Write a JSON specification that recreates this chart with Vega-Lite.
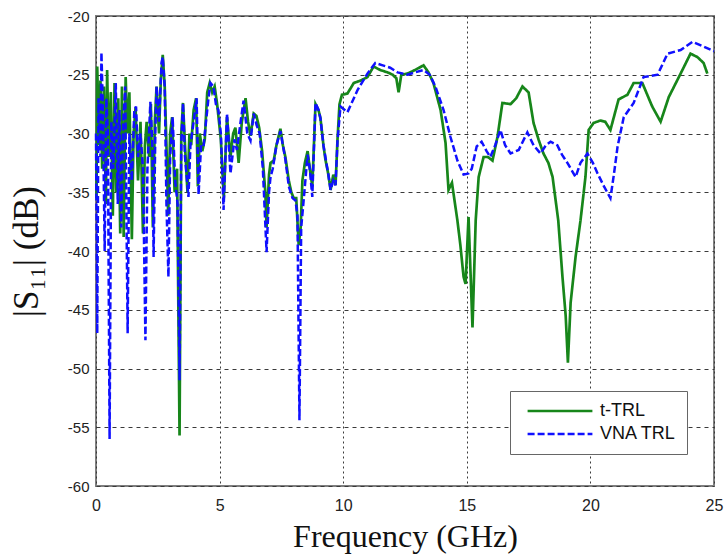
{
  "$schema": "https://vega.github.io/schema/vega-lite/v6.json",
  "autosize": {"type": "none"},
  "padding": {"left": 96, "top": 16, "right": 14, "bottom": 73},
  "width": 618,
  "height": 470,
  "background": "white",
  "config": {
    "view": {"stroke": "#7f7f7f", "strokeWidth": 2},
    "axis": {
      "labelFont": "Liberation Sans", "labelFontSize": 15, "labelColor": "#222",
      "titleFont": "Liberation Serif", "titleFontSize": 32, "titleFontWeight": "normal", "titleColor": "#111",
      "gridColor": "#3a3a3a", "gridWidth": 1, "gridOpacity": 1,
      "domain": false, "ticks": false
    }
  },
  "data": {"values": [
    {"f":0.02,"s":-35.5,"k":"t-TRL"},{"f":0.05,"s":-24.3,"k":"t-TRL"},{"f":0.12,"s":-31,"k":"t-TRL"},{"f":0.18,"s":-25.5,"k":"t-TRL"},{"f":0.25,"s":-33,"k":"t-TRL"},{"f":0.32,"s":-26,"k":"t-TRL"},{"f":0.4,"s":-36,"k":"t-TRL"},{"f":0.45,"s":-24.6,"k":"t-TRL"},{"f":0.52,"s":-32,"k":"t-TRL"},{"f":0.6,"s":-26.5,"k":"t-TRL"},{"f":0.68,"s":-37,"k":"t-TRL"},{"f":0.75,"s":-25.7,"k":"t-TRL"},{"f":0.82,"s":-35,"k":"t-TRL"},{"f":0.9,"s":-27,"k":"t-TRL"},{"f":0.98,"s":-38.5,"k":"t-TRL"},{"f":1.05,"s":-26,"k":"t-TRL"},{"f":1.12,"s":-38.8,"k":"t-TRL"},{"f":1.2,"s":-25.2,"k":"t-TRL"},{"f":1.27,"s":-30,"k":"t-TRL"},{"f":1.35,"s":-26.5,"k":"t-TRL"},{"f":1.45,"s":-39,"k":"t-TRL"},{"f":1.52,"s":-30,"k":"t-TRL"},{"f":1.6,"s":-27.8,"k":"t-TRL"},{"f":1.7,"s":-34,"k":"t-TRL"},{"f":1.8,"s":-29,"k":"t-TRL"},{"f":1.9,"s":-38.5,"k":"t-TRL"},{"f":1.98,"s":-31,"k":"t-TRL"},{"f":2.05,"s":-29,"k":"t-TRL"},{"f":2.15,"s":-32,"k":"t-TRL"},{"f":2.22,"s":-27.5,"k":"t-TRL"},{"f":2.3,"s":-38,"k":"t-TRL"},{"f":2.38,"s":-29,"k":"t-TRL"},{"f":2.45,"s":-26,"k":"t-TRL"},{"f":2.55,"s":-30,"k":"t-TRL"},{"f":2.62,"s":-25.5,"k":"t-TRL"},{"f":2.7,"s":-23.3,"k":"t-TRL"},{"f":2.78,"s":-26,"k":"t-TRL"},{"f":2.85,"s":-31,"k":"t-TRL"},{"f":2.92,"s":-37,"k":"t-TRL"},{"f":3.0,"s":-30,"k":"t-TRL"},{"f":3.08,"s":-28.6,"k":"t-TRL"},{"f":3.18,"s":-35,"k":"t-TRL"},{"f":3.28,"s":-33,"k":"t-TRL"},{"f":3.38,"s":-55.7,"k":"t-TRL"},{"f":3.45,"s":-30,"k":"t-TRL"},{"f":3.52,"s":-27.4,"k":"t-TRL"},{"f":3.6,"s":-31,"k":"t-TRL"},{"f":3.7,"s":-35,"k":"t-TRL"},{"f":3.78,"s":-30,"k":"t-TRL"},{"f":3.85,"s":-31,"k":"t-TRL"},{"f":3.95,"s":-28,"k":"t-TRL"},{"f":4.05,"s":-27,"k":"t-TRL"},{"f":4.12,"s":-34.5,"k":"t-TRL"},{"f":4.2,"s":-30,"k":"t-TRL"},{"f":4.3,"s":-31.5,"k":"t-TRL"},{"f":4.4,"s":-30.5,"k":"t-TRL"},{"f":4.5,"s":-26.5,"k":"t-TRL"},{"f":4.6,"s":-25.7,"k":"t-TRL"},{"f":4.7,"s":-26.5,"k":"t-TRL"},{"f":4.8,"s":-26,"k":"t-TRL"},{"f":4.9,"s":-27.5,"k":"t-TRL"},{"f":5.05,"s":-30.5,"k":"t-TRL"},{"f":5.17,"s":-35.5,"k":"t-TRL"},{"f":5.3,"s":-28.6,"k":"t-TRL"},{"f":5.44,"s":-32,"k":"t-TRL"},{"f":5.55,"s":-30,"k":"t-TRL"},{"f":5.64,"s":-29.5,"k":"t-TRL"},{"f":5.77,"s":-32.5,"k":"t-TRL"},{"f":5.9,"s":-29,"k":"t-TRL"},{"f":6.05,"s":-27,"k":"t-TRL"},{"f":6.15,"s":-29,"k":"t-TRL"},{"f":6.25,"s":-30.2,"k":"t-TRL"},{"f":6.38,"s":-28.3,"k":"t-TRL"},{"f":6.49,"s":-28.5,"k":"t-TRL"},{"f":6.6,"s":-29.5,"k":"t-TRL"},{"f":6.72,"s":-31.5,"k":"t-TRL"},{"f":6.85,"s":-35,"k":"t-TRL"},{"f":6.9,"s":-38,"k":"t-TRL"},{"f":7.0,"s":-33.5,"k":"t-TRL"},{"f":7.06,"s":-32.5,"k":"t-TRL"},{"f":7.19,"s":-32.3,"k":"t-TRL"},{"f":7.3,"s":-31,"k":"t-TRL"},{"f":7.46,"s":-29.6,"k":"t-TRL"},{"f":7.56,"s":-31,"k":"t-TRL"},{"f":7.66,"s":-32,"k":"t-TRL"},{"f":7.8,"s":-34,"k":"t-TRL"},{"f":7.9,"s":-35,"k":"t-TRL"},{"f":8.0,"s":-35.5,"k":"t-TRL"},{"f":8.1,"s":-35.5,"k":"t-TRL"},{"f":8.2,"s":-39.5,"k":"t-TRL"},{"f":8.28,"s":-38,"k":"t-TRL"},{"f":8.35,"s":-34,"k":"t-TRL"},{"f":8.45,"s":-32.5,"k":"t-TRL"},{"f":8.56,"s":-31.5,"k":"t-TRL"},{"f":8.65,"s":-33,"k":"t-TRL"},{"f":8.75,"s":-34.5,"k":"t-TRL"},{"f":8.88,"s":-27.5,"k":"t-TRL"},{"f":9.0,"s":-28,"k":"t-TRL"},{"f":9.08,"s":-28.7,"k":"t-TRL"},{"f":9.2,"s":-31,"k":"t-TRL"},{"f":9.28,"s":-32.2,"k":"t-TRL"},{"f":9.4,"s":-33.5,"k":"t-TRL"},{"f":9.49,"s":-34.8,"k":"t-TRL"},{"f":9.6,"s":-33.5,"k":"t-TRL"},{"f":9.69,"s":-34.4,"k":"t-TRL"},{"f":9.77,"s":-30.5,"k":"t-TRL"},{"f":9.85,"s":-27.5,"k":"t-TRL"},{"f":9.95,"s":-26.7,"k":"t-TRL"},{"f":10.17,"s":-26.6,"k":"t-TRL"},{"f":10.43,"s":-25.7,"k":"t-TRL"},{"f":10.7,"s":-25.5,"k":"t-TRL"},{"f":10.98,"s":-25.2,"k":"t-TRL"},{"f":11.23,"s":-24.3,"k":"t-TRL"},{"f":11.5,"s":-24.6,"k":"t-TRL"},{"f":11.8,"s":-24.8,"k":"t-TRL"},{"f":12.0,"s":-25,"k":"t-TRL"},{"f":12.15,"s":-25.3,"k":"t-TRL"},{"f":12.24,"s":-26.5,"k":"t-TRL"},{"f":12.35,"s":-25,"k":"t-TRL"},{"f":12.6,"s":-24.9,"k":"t-TRL"},{"f":12.9,"s":-24.6,"k":"t-TRL"},{"f":13.25,"s":-24.2,"k":"t-TRL"},{"f":13.45,"s":-24.8,"k":"t-TRL"},{"f":13.65,"s":-25.7,"k":"t-TRL"},{"f":13.94,"s":-28,"k":"t-TRL"},{"f":14.14,"s":-30.8,"k":"t-TRL"},{"f":14.26,"s":-34.8,"k":"t-TRL"},{"f":14.4,"s":-34.2,"k":"t-TRL"},{"f":14.62,"s":-37.4,"k":"t-TRL"},{"f":14.74,"s":-39.5,"k":"t-TRL"},{"f":14.87,"s":-42.2,"k":"t-TRL"},{"f":14.95,"s":-42.8,"k":"t-TRL"},{"f":15.07,"s":-37.1,"k":"t-TRL"},{"f":15.23,"s":-46.5,"k":"t-TRL"},{"f":15.36,"s":-37.4,"k":"t-TRL"},{"f":15.48,"s":-33.7,"k":"t-TRL"},{"f":15.68,"s":-32,"k":"t-TRL"},{"f":15.85,"s":-32,"k":"t-TRL"},{"f":16.04,"s":-32.3,"k":"t-TRL"},{"f":16.24,"s":-30.3,"k":"t-TRL"},{"f":16.44,"s":-27.4,"k":"t-TRL"},{"f":16.77,"s":-27.5,"k":"t-TRL"},{"f":17.0,"s":-27,"k":"t-TRL"},{"f":17.25,"s":-26,"k":"t-TRL"},{"f":17.5,"s":-26.5,"k":"t-TRL"},{"f":17.7,"s":-29.1,"k":"t-TRL"},{"f":17.9,"s":-30.5,"k":"t-TRL"},{"f":18.1,"s":-31.7,"k":"t-TRL"},{"f":18.3,"s":-32.5,"k":"t-TRL"},{"f":18.47,"s":-33.7,"k":"t-TRL"},{"f":18.7,"s":-37.4,"k":"t-TRL"},{"f":18.87,"s":-42.2,"k":"t-TRL"},{"f":19.0,"s":-45.5,"k":"t-TRL"},{"f":19.09,"s":-49.5,"k":"t-TRL"},{"f":19.2,"s":-44.4,"k":"t-TRL"},{"f":19.4,"s":-40.5,"k":"t-TRL"},{"f":19.6,"s":-37.4,"k":"t-TRL"},{"f":19.8,"s":-33.7,"k":"t-TRL"},{"f":19.93,"s":-29.7,"k":"t-TRL"},{"f":20.13,"s":-29.1,"k":"t-TRL"},{"f":20.4,"s":-28.9,"k":"t-TRL"},{"f":20.6,"s":-29,"k":"t-TRL"},{"f":20.81,"s":-29.7,"k":"t-TRL"},{"f":21.14,"s":-27.1,"k":"t-TRL"},{"f":21.5,"s":-26.7,"k":"t-TRL"},{"f":21.75,"s":-25.7,"k":"t-TRL"},{"f":22.1,"s":-25.7,"k":"t-TRL"},{"f":22.5,"s":-27.7,"k":"t-TRL"},{"f":22.84,"s":-29,"k":"t-TRL"},{"f":23.17,"s":-26.9,"k":"t-TRL"},{"f":23.65,"s":-24.9,"k":"t-TRL"},{"f":24.05,"s":-23.2,"k":"t-TRL"},{"f":24.33,"s":-23.5,"k":"t-TRL"},{"f":24.58,"s":-24,"k":"t-TRL"},{"f":24.73,"s":-24.9,"k":"t-TRL"},
    {"f":0.0,"s":-30,"k":"VNA TRL"},{"f":0.05,"s":-47,"k":"VNA TRL"},{"f":0.1,"s":-27,"k":"VNA TRL"},{"f":0.18,"s":-32,"k":"VNA TRL"},{"f":0.22,"s":-23.1,"k":"VNA TRL"},{"f":0.28,"s":-28,"k":"VNA TRL"},{"f":0.35,"s":-40,"k":"VNA TRL"},{"f":0.42,"s":-27,"k":"VNA TRL"},{"f":0.48,"s":-30,"k":"VNA TRL"},{"f":0.55,"s":-56,"k":"VNA TRL"},{"f":0.62,"s":-29,"k":"VNA TRL"},{"f":0.7,"s":-33,"k":"VNA TRL"},{"f":0.8,"s":-25.7,"k":"VNA TRL"},{"f":0.88,"s":-36,"k":"VNA TRL"},{"f":0.95,"s":-28,"k":"VNA TRL"},{"f":1.02,"s":-38,"k":"VNA TRL"},{"f":1.1,"s":-29,"k":"VNA TRL"},{"f":1.18,"s":-26,"k":"VNA TRL"},{"f":1.28,"s":-47,"k":"VNA TRL"},{"f":1.35,"s":-30,"k":"VNA TRL"},{"f":1.45,"s":-34,"k":"VNA TRL"},{"f":1.55,"s":-28,"k":"VNA TRL"},{"f":1.62,"s":-27.7,"k":"VNA TRL"},{"f":1.7,"s":-32,"k":"VNA TRL"},{"f":1.8,"s":-30,"k":"VNA TRL"},{"f":1.9,"s":-33,"k":"VNA TRL"},{"f":2.0,"s":-47.6,"k":"VNA TRL"},{"f":2.08,"s":-33,"k":"VNA TRL"},{"f":2.2,"s":-27.3,"k":"VNA TRL"},{"f":2.28,"s":-31,"k":"VNA TRL"},{"f":2.33,"s":-40.5,"k":"VNA TRL"},{"f":2.4,"s":-30,"k":"VNA TRL"},{"f":2.45,"s":-26,"k":"VNA TRL"},{"f":2.55,"s":-29,"k":"VNA TRL"},{"f":2.65,"s":-24,"k":"VNA TRL"},{"f":2.7,"s":-23.5,"k":"VNA TRL"},{"f":2.78,"s":-26,"k":"VNA TRL"},{"f":2.85,"s":-36,"k":"VNA TRL"},{"f":2.93,"s":-42.2,"k":"VNA TRL"},{"f":3.0,"s":-32,"k":"VNA TRL"},{"f":3.1,"s":-28.6,"k":"VNA TRL"},{"f":3.2,"s":-34,"k":"VNA TRL"},{"f":3.3,"s":-36,"k":"VNA TRL"},{"f":3.38,"s":-51,"k":"VNA TRL"},{"f":3.45,"s":-31,"k":"VNA TRL"},{"f":3.52,"s":-27.4,"k":"VNA TRL"},{"f":3.6,"s":-32,"k":"VNA TRL"},{"f":3.74,"s":-35.4,"k":"VNA TRL"},{"f":3.82,"s":-31,"k":"VNA TRL"},{"f":3.95,"s":-29,"k":"VNA TRL"},{"f":4.07,"s":-27,"k":"VNA TRL"},{"f":4.15,"s":-35.2,"k":"VNA TRL"},{"f":4.25,"s":-31,"k":"VNA TRL"},{"f":4.35,"s":-31.1,"k":"VNA TRL"},{"f":4.45,"s":-29,"k":"VNA TRL"},{"f":4.55,"s":-27,"k":"VNA TRL"},{"f":4.63,"s":-25.7,"k":"VNA TRL"},{"f":4.75,"s":-26,"k":"VNA TRL"},{"f":4.85,"s":-27.5,"k":"VNA TRL"},{"f":4.95,"s":-28,"k":"VNA TRL"},{"f":5.05,"s":-30,"k":"VNA TRL"},{"f":5.16,"s":-36.5,"k":"VNA TRL"},{"f":5.3,"s":-28.3,"k":"VNA TRL"},{"f":5.44,"s":-33.4,"k":"VNA TRL"},{"f":5.6,"s":-30.5,"k":"VNA TRL"},{"f":5.7,"s":-31.4,"k":"VNA TRL"},{"f":5.85,"s":-29,"k":"VNA TRL"},{"f":5.97,"s":-27.2,"k":"VNA TRL"},{"f":6.12,"s":-30,"k":"VNA TRL"},{"f":6.25,"s":-30.6,"k":"VNA TRL"},{"f":6.38,"s":-28.3,"k":"VNA TRL"},{"f":6.5,"s":-29.3,"k":"VNA TRL"},{"f":6.62,"s":-30,"k":"VNA TRL"},{"f":6.75,"s":-33,"k":"VNA TRL"},{"f":6.9,"s":-40.1,"k":"VNA TRL"},{"f":7.0,"s":-35,"k":"VNA TRL"},{"f":7.06,"s":-33.7,"k":"VNA TRL"},{"f":7.15,"s":-33,"k":"VNA TRL"},{"f":7.3,"s":-31,"k":"VNA TRL"},{"f":7.46,"s":-29.8,"k":"VNA TRL"},{"f":7.56,"s":-31,"k":"VNA TRL"},{"f":7.66,"s":-32.2,"k":"VNA TRL"},{"f":7.8,"s":-34.5,"k":"VNA TRL"},{"f":7.95,"s":-35.5,"k":"VNA TRL"},{"f":8.07,"s":-35.7,"k":"VNA TRL"},{"f":8.15,"s":-37,"k":"VNA TRL"},{"f":8.23,"s":-54.4,"k":"VNA TRL"},{"f":8.3,"s":-38,"k":"VNA TRL"},{"f":8.4,"s":-35.7,"k":"VNA TRL"},{"f":8.56,"s":-31.8,"k":"VNA TRL"},{"f":8.65,"s":-33,"k":"VNA TRL"},{"f":8.75,"s":-35.4,"k":"VNA TRL"},{"f":8.88,"s":-27.4,"k":"VNA TRL"},{"f":9.0,"s":-28,"k":"VNA TRL"},{"f":9.08,"s":-28.7,"k":"VNA TRL"},{"f":9.2,"s":-31,"k":"VNA TRL"},{"f":9.28,"s":-32,"k":"VNA TRL"},{"f":9.4,"s":-33.5,"k":"VNA TRL"},{"f":9.49,"s":-34.8,"k":"VNA TRL"},{"f":9.6,"s":-34,"k":"VNA TRL"},{"f":9.69,"s":-34.4,"k":"VNA TRL"},{"f":9.77,"s":-30.6,"k":"VNA TRL"},{"f":9.89,"s":-27.7,"k":"VNA TRL"},{"f":10.17,"s":-28.2,"k":"VNA TRL"},{"f":10.58,"s":-26.3,"k":"VNA TRL"},{"f":10.98,"s":-24.9,"k":"VNA TRL"},{"f":11.3,"s":-24,"k":"VNA TRL"},{"f":11.6,"s":-24.2,"k":"VNA TRL"},{"f":11.9,"s":-24.4,"k":"VNA TRL"},{"f":12.2,"s":-24.8,"k":"VNA TRL"},{"f":12.6,"s":-25,"k":"VNA TRL"},{"f":12.9,"s":-24.8,"k":"VNA TRL"},{"f":13.25,"s":-24.6,"k":"VNA TRL"},{"f":13.5,"s":-25,"k":"VNA TRL"},{"f":13.73,"s":-26,"k":"VNA TRL"},{"f":14.06,"s":-28,"k":"VNA TRL"},{"f":14.34,"s":-30.3,"k":"VNA TRL"},{"f":14.62,"s":-32.3,"k":"VNA TRL"},{"f":14.87,"s":-33.5,"k":"VNA TRL"},{"f":15.07,"s":-33.4,"k":"VNA TRL"},{"f":15.2,"s":-33,"k":"VNA TRL"},{"f":15.4,"s":-31.1,"k":"VNA TRL"},{"f":15.6,"s":-30.7,"k":"VNA TRL"},{"f":15.8,"s":-31.5,"k":"VNA TRL"},{"f":15.95,"s":-32,"k":"VNA TRL"},{"f":16.15,"s":-31,"k":"VNA TRL"},{"f":16.36,"s":-29.7,"k":"VNA TRL"},{"f":16.55,"s":-31,"k":"VNA TRL"},{"f":16.77,"s":-31.7,"k":"VNA TRL"},{"f":17.1,"s":-31.4,"k":"VNA TRL"},{"f":17.45,"s":-29.9,"k":"VNA TRL"},{"f":17.7,"s":-31,"k":"VNA TRL"},{"f":17.98,"s":-31.7,"k":"VNA TRL"},{"f":18.2,"s":-31,"k":"VNA TRL"},{"f":18.39,"s":-30.7,"k":"VNA TRL"},{"f":18.66,"s":-31,"k":"VNA TRL"},{"f":18.85,"s":-31.8,"k":"VNA TRL"},{"f":19.07,"s":-32.5,"k":"VNA TRL"},{"f":19.4,"s":-33.7,"k":"VNA TRL"},{"f":19.6,"s":-32.5,"k":"VNA TRL"},{"f":19.88,"s":-31.7,"k":"VNA TRL"},{"f":20.1,"s":-32.5,"k":"VNA TRL"},{"f":20.29,"s":-33.4,"k":"VNA TRL"},{"f":20.55,"s":-34.5,"k":"VNA TRL"},{"f":20.81,"s":-35.5,"k":"VNA TRL"},{"f":20.95,"s":-33.5,"k":"VNA TRL"},{"f":21.1,"s":-31.1,"k":"VNA TRL"},{"f":21.35,"s":-28.6,"k":"VNA TRL"},{"f":21.75,"s":-27.4,"k":"VNA TRL"},{"f":22.15,"s":-25.2,"k":"VNA TRL"},{"f":22.72,"s":-25,"k":"VNA TRL"},{"f":23.12,"s":-23.2,"k":"VNA TRL"},{"f":23.65,"s":-22.9,"k":"VNA TRL"},{"f":24.13,"s":-22.2,"k":"VNA TRL"},{"f":24.58,"s":-22.6,"k":"VNA TRL"},{"f":25.0,"s":-23,"k":"VNA TRL"}
  ]},
  "encoding": {
    "x": {"field": "f", "type": "quantitative", "title": "Frequency (GHz)",
      "scale": {"domain": [0, 25], "nice": false, "zero": false},
      "axis": {"values": [0,5,10,15,20,25], "labelPadding": 11, "labelFontSize": 16, "titlePadding": 8, "gridDash": [2, 3], "labelFlush": false}},
    "y": {"field": "s", "type": "quantitative", "title": "|S₁₁| (dB)",
      "scale": {"domain": [-60, -20], "nice": false, "zero": false},
      "axis": {"values": [-60,-55,-50,-45,-40,-35,-30,-25,-20], "labelExpr": "'' + datum.value", "labelPadding": 7, "titleFontSize": 35, "titleX": -52, "titleY": 235, "gridDash": [4, 4], "labelFlush": false}},
    "color": {"field": "k", "type": "nominal", "title": null,
      "scale": {"domain": ["t-TRL", "VNA TRL"], "range": ["#17861a", "#1010ff"]},
      "legend": {"orient": "none", "legendX": 414, "legendY": 375, "padding": 10, "fillColor": "white", "strokeColor": "#666",
        "labelFont": "Liberation Sans", "labelFontSize": 18, "labelColor": "#111", "symbolType": "stroke", "symbolSize": 4200, "symbolStrokeWidth": 2.5, "clipHeight": 20, "rowPadding": 3, "labelOffset": 6, "symbolOffset": 6}},
    "strokeDash": {"field": "k", "type": "nominal", "title": null,
      "scale": {"domain": ["t-TRL", "VNA TRL"], "range": [[1, 0], [7, 3]]}}
  },
  "layer": [
    {"transform": [{"filter": "datum.k == 't-TRL'"}], "mark": {"type": "line", "strokeWidth": 2.7}},
    {"transform": [{"filter": "datum.k == 'VNA TRL'"}], "mark": {"type": "line", "strokeWidth": 2.5}}
  ]
}
